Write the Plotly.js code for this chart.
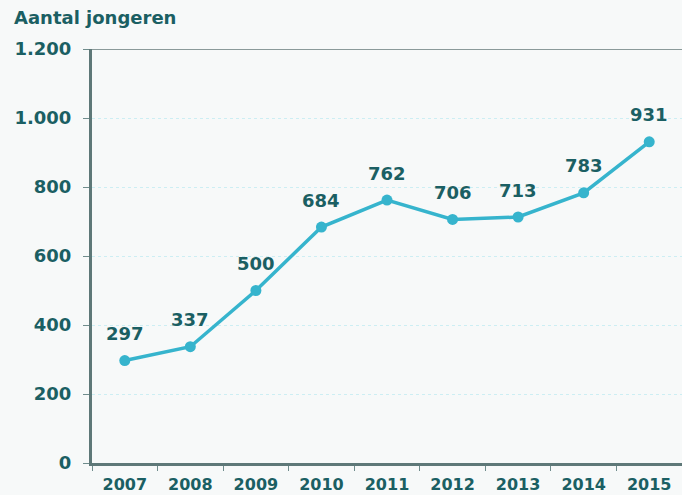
<!DOCTYPE html>
<html><head><meta charset="utf-8">
<script src="https://cdn.plot.ly/plotly-3.0.1.min.js"></script>
<style>html,body{margin:0;padding:0;background:#f7f9f9}</style>
</head><body>
<div id="chart" style="width:682px;height:495px"></div>
<script>
const years = ['2007','2008','2009','2010','2011','2012','2013','2014','2015'];
const values = [297, 337, 500, 684, 762, 706, 713, 783, 931];
const yTickVals = [0, 200, 400, 600, 800, 1000, 1200];
const yTickText = ['0', '200', '400', '600', '800', '1.000', '1.200'];
const teal = '#1b5f63';
const font = 'DejaVu Sans, Verdana, sans-serif';

const trace = {
  x: years, y: values, type: 'scatter', mode: 'lines+markers',
  line: {color: '#36b4cd', width: 3.5},
  marker: {color: '#36b4cd', size: 11},
  cliponaxis: false, hoverinfo: 'none'
};
const annotations = years.map((yr, i) => ({
  x: i, y: values[i], xref: 'x', yref: 'y', text: '<b>' + values[i] + '</b>',
  showarrow: false, yshift: 27,
  font: {family: font, size: 18, color: teal}
}));
annotations.push({
  xref: 'paper', yref: 'paper', x: -0.1356, y: 1.075, xanchor: 'left', yanchor: 'middle',
  text: '<b>Aantal jongeren</b>', showarrow: false,
  font: {family: font, size: 18, color: teal}
});
const layout = {
  width: 682, height: 495,
  margin: {l: 92, r: 0, t: 49, b: 32},
  paper_bgcolor: '#f7f9f9', plot_bgcolor: '#f7f9f9',
  showlegend: false,
  font: {family: font, color: teal},
  xaxis: {
    type: 'category', tickson: 'boundaries', ticks: 'outside', ticklen: 5,
    tickcolor: '#6f8c8c', showgrid: false, showline: true, linecolor: '#5e7878', linewidth: 3,
    tickfont: {family: font, size: 16, color: teal, weight: 'bold'},
    range: [-0.5, 8.5], fixedrange: true, ticklabelstandoff: 5
  },
  yaxis: {
    range: [0, 1200], tickvals: yTickVals, ticktext: yTickText,
    ticks: 'outside', ticklen: 6, tickcolor: '#6f8c8c',
    showline: true, linecolor: '#5e7878', linewidth: 3,
    showgrid: true, gridcolor: '#cdeef3', griddash: 'dot', gridwidth: 1,
    zeroline: false,
    tickfont: {family: font, size: 18, color: teal, weight: 'bold'},
    ticklabelstandoff: 8, fixedrange: true
  },
  shapes: [{type: 'line', xref: 'paper', yref: 'y', x0: 0, x1: 1, y0: 1200, y1: 1200,
    line: {color: '#8a9a9a', width: 2}}],
  annotations: annotations
};
Plotly.newPlot('chart', [trace], layout, {displayModeBar: false, staticPlot: true});
</script>
</body></html>
